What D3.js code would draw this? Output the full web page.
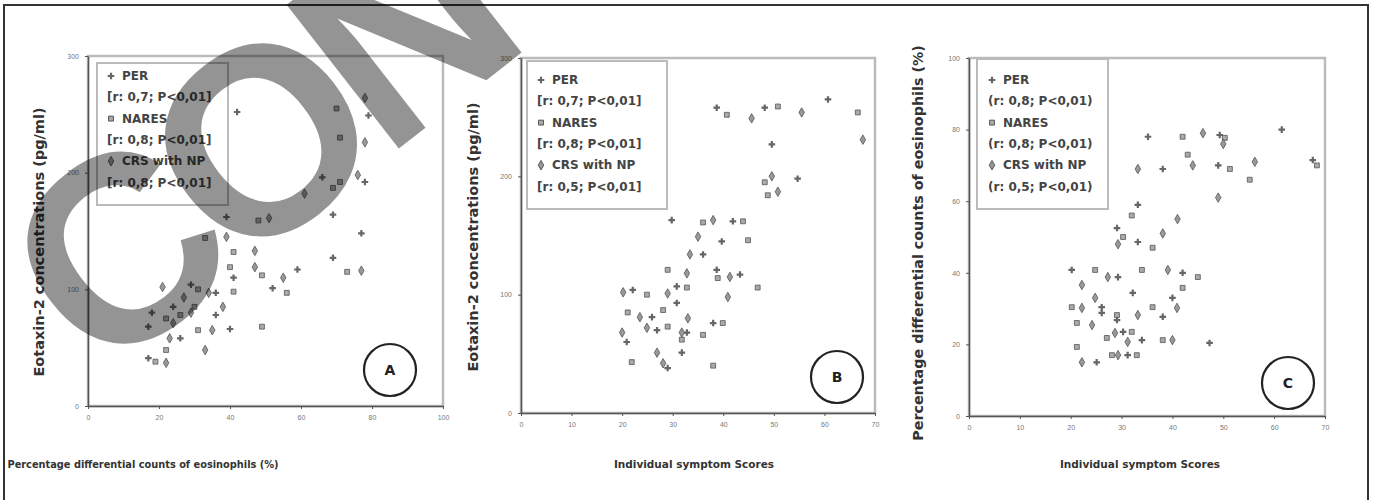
<!DOCTYPE html>
<html>
<head>
<meta charset="utf-8">
<script src="https://cdnjs.cloudflare.com/ajax/libs/d3/7.8.5/d3.min.js"></script>
<style>
	body { margin: 0; background: #fff; }
	.tick text { font-family: "Liberation Sans", Arial, sans-serif; font-size: 7px; fill: #777; }
	.tick line { stroke: #555; }
	.domain { stroke: #555; stroke-width: 1.5; }
	.axisTitle { font-family: "DejaVu Sans", sans-serif; font-weight: bold; fill: #333; }
	.legendText { font-family: "DejaVu Sans", sans-serif; font-weight: bold; font-size: 12px; fill: #444; }
</style>
</head>
<body>
<script>

// values, one list of [x, y] per group and panel
var aPer = [[42,252],[79,249],[66,196],[78,192],[39,162],[69,164],[77,148],[69,127],[59,117],[41,110],[52,101],[29,104],[36,97],[24,85],[18,80],[36,78],[17,68],[40,66],[26,58],[17,41]];
var aNares = [[70,255],[71,230],[71,192],[69,187],[48,159],[33,144],[41,132],[40,119],[73,115],[49,112],[56,97],[31,100],[41,98],[30,85],[26,78],[22,75],[31,65],[49,68],[22,48],[19,38]];
var aCrs = [[78,264],[78,226],[76,198],[61,182],[51,161],[39,145],[47,133],[47,119],[77,116],[55,110],[21,102],[34,97],[27,93],[38,85],[29,80],[24,71],[35,65],[23,58],[33,48],[22,37]];

var bPer = [[38.7,258],[48.2,258],[60.7,265],[49.6,227],[54.7,198],[29.8,163],[41.9,162],[39.7,145],[36,134],[38.7,121],[43.3,117],[22.1,104],[30.8,107],[30.8,93],[25.9,81],[38,76],[26.9,70],[32.8,68],[20.9,60],[31.8,51],[29,38]];
var bNares = [[40.7,252],[50.8,259],[66.6,254],[48.2,195],[48.8,184],[36,161],[43.9,162],[44.9,146],[29,121],[38.9,114],[46.8,106],[24.9,100],[32.8,106],[21.1,85],[28.1,87],[39.9,76],[29,73],[36,66],[31.8,62],[21.9,43],[38,40]];
var bCrs = [[45.6,249],[55.5,254],[67.6,231],[49.6,200],[50.8,187],[38,163],[35,149],[33.4,134],[32.8,118],[41.3,115],[20.2,102],[29,101],[40.9,98],[23.5,81],[33,80],[24.9,72],[31.8,68],[20,68],[26.9,51],[28.1,42]];

var cPer = [[35.2,78],[49.3,78.5],[61.5,80],[49,70],[67.6,71.5],[38.1,69],[33.2,59],[29.1,52.5],[33.2,48.6],[20.2,40.8],[29.3,38.8],[42,40],[32.2,34.4],[40,33],[26.1,30.4],[26.1,28.8],[38.1,27.7],[29.1,26.8],[30.3,23.5],[34,21.2],[47.3,20.4],[25.1,15],[31.2,17]];
var cNares = [[42,78],[50.3,77.7],[43,73],[51.3,69],[68.4,70],[55.2,66],[32,56],[30.3,50],[36.1,47],[24.8,40.8],[34,40.8],[45,38.8],[42,35.8],[20.2,30.4],[36.1,30.4],[29.1,28.2],[21.2,26],[27.1,21.8],[32,23.5],[38.1,21.2],[21.2,19.3],[28.1,17],[33,17]];
var cCrs = [[46,79],[50,76],[44,70],[56.2,71],[33.2,69],[49,61],[41,55],[29.3,48],[38.1,51],[27.3,38.8],[39.1,40.8],[22.2,36.6],[24.8,33],[22.2,30.2],[40.9,30.2],[33.2,28.2],[24.2,25.4],[28.7,23.2],[31.2,20.7],[40,21.2],[22.2,15],[29.3,17]];

// tick labels
var ticksA_x = [0, 20, 40, 60, 80, 100];
var ticksA_y = [0, 100, 200, 300];
var ticksB_x = [0, 10, 20, 30, 40, 50, 60, 70];
var ticksB_y = [0, 100, 200, 300];
var ticksC_x = [0, 10, 20, 30, 40, 50, 60, 70];
var ticksC_y = [0, 20, 40, 60, 80, 100];

// legend lines
var legendA = ["PER", "[r: 0,7; P<0,01]", "NARES", "[r: 0,8; P<0,01]", "CRS with NP", "[r: 0,8; P<0,01]"];
var legendB = ["PER", "[r: 0,7; P<0,01]", "NARES", "[r: 0,8; P<0,01]", "CRS with NP", "[r: 0,5; P<0,01]"];
var legendC = ["PER", "(r: 0,8; P<0,01)", "NARES", "(r: 0,8; P<0,01)", "CRS with NP", "(r: 0,5; P<0,01)"];

var eosTitle = "Percentage differential counts of eosinophils (%)";
var eotaxinTitle = "Eotaxin-2 concentrations  (pg/ml)";
var scoreTitle = "Individual symptom Scores";

var w = 1373;
var h = 500;

var svg = d3.select("body")
			.append("svg")
			.attr("width", w)
			.attr("height", h);

// outer frame of the figure
svg.append("path")
	.attr("d", "M4,500 L4,5 L1368,5 L1368,500")
	.attr("fill", "none")
	.attr("stroke", "#333")
	.attr("stroke-width", 2);

// marker shapes for the three groups
var shapes = [
	{ type: d3.symbolCross, size: 24, fill: "#666", stroke: "none" },
	{ type: d3.symbolSquare, size: 24, fill: "#aaa", stroke: "#555" },
	{ type: d3.symbolDiamond, size: 26, fill: "#999", stroke: "#555" }
];

function drawPanel(p) {

	var x = d3.scaleLinear().domain([p.xTicks[0], p.xTicks[p.xTicks.length - 1]]).range([p.left, p.right]);
	var y = d3.scaleLinear().domain([p.yTicks[0], p.yTicks[p.yTicks.length - 1]]).range([p.bottom, p.top]);

	var g = svg.append("g");

	// light frame round the plot area
	g.append("rect")
		.attr("x", p.left)
		.attr("y", p.top)
		.attr("width", p.right - p.left)
		.attr("height", p.bottom - p.top)
		.attr("fill", "none")
		.attr("stroke", "#bbb")
		.attr("stroke-width", 2.5);

	// legend box
	g.append("rect")
		.attr("x", p.lx)
		.attr("y", p.ly)
		.attr("width", p.lw)
		.attr("height", p.lh)
		.attr("fill", "#fff")
		.attr("stroke", "#bbb")
		.attr("stroke-width", 2);

	p.legend.forEach(function(t, i) {
		var ty = p.ly + p.firstLine + i * 21.3;
		var tx = p.lx + p.indent;
		if (i % 2 == 0) {
			var s = shapes[i / 2];
			g.append("path")
				.attr("d", d3.symbol().type(s.type).size(s.size)())
				.attr("transform", "translate(" + (tx + 4) + "," + (ty - 4) + ")")
				.attr("fill", s.fill)
				.attr("stroke", s.stroke);
			tx = tx + 15;
		}
		g.append("text")
			.attr("class", "legendText")
			.attr("x", tx)
			.attr("y", ty)
			.text(t);
	});

	// axes
	g.append("g")
		.attr("transform", "translate(0," + p.bottom + ")")
		.call(d3.axisBottom(x).tickValues(p.xTicks).tickSizeInner(3).tickSizeOuter(0).tickPadding(6));
	g.append("g")
		.attr("transform", "translate(" + p.left + ",0)")
		.call(d3.axisLeft(y).tickValues(p.yTicks).tickSizeInner(3).tickSizeOuter(0).tickPadding(6));

	// points
	p.series.forEach(function(data, k) {
		var s = shapes[k];
		g.selectAll(null)
			.data(data)
			.enter()
			.append("path")
			.attr("d", d3.symbol().type(s.type).size(s.size))
			.attr("transform", function(d) { return "translate(" + x(d[0]) + "," + y(d[1]) + ")"; })
			.attr("fill", s.fill)
			.attr("stroke", s.stroke)
			.attr("stroke-width", 0.8);
	});

	// panel letter in a circle
	g.append("circle")
		.attr("cx", p.cx)
		.attr("cy", p.cy)
		.attr("r", 26)
		.attr("fill", "none")
		.attr("stroke", "#222")
		.attr("stroke-width", 2.2);
	g.append("text")
		.attr("class", "axisTitle")
		.attr("x", p.cx)
		.attr("y", p.cy + 5)
		.attr("text-anchor", "middle")
		.style("font-size", "14px")
		.style("fill", "#222")
		.text(p.letter);

	// axis titles
	g.append("text")
		.attr("class", "axisTitle")
		.attr("x", p.xtx)
		.attr("y", 468)
		.attr("text-anchor", "middle")
		.style("font-size", p.xSize)
		.text(p.xTitle);
	g.append("text")
		.attr("class", "axisTitle")
		.attr("transform", "translate(" + p.ytx + "," + p.yty + ") rotate(-90)")
		.attr("text-anchor", "middle")
		.style("font-size", p.ySize)
		.text(p.yTitle);
}

drawPanel({ left: 88, right: 443, top: 56, bottom: 406, xTicks: ticksA_x, yTicks: ticksA_y,
	series: [aPer, aNares, aCrs], legend: legendA, lx: 97, ly: 63, lw: 131, lh: 142, firstLine: 17, indent: 10,
	cx: 390, cy: 370, letter: "A", xTitle: eosTitle, xtx: 143, xSize: "9.8px", yTitle: eotaxinTitle, ytx: 44, yty: 242, ySize: "14.5px" });

drawPanel({ left: 521, right: 875, top: 58, bottom: 413, xTicks: ticksB_x, yTicks: ticksB_y,
	series: [bPer, bNares, bCrs], legend: legendB, lx: 527, ly: 61, lw: 140, lh: 148, firstLine: 23, indent: 10,
	cx: 837, cy: 377, letter: "B", xTitle: scoreTitle, xtx: 694, xSize: "10.5px", yTitle: eotaxinTitle, ytx: 478, yty: 237, ySize: "14.5px" });

drawPanel({ left: 969, right: 1325, top: 58, bottom: 416, xTicks: ticksC_x, yTicks: ticksC_y,
	series: [cPer, cNares, cCrs], legend: legendC, lx: 977, ly: 59, lw: 131, lh: 150, firstLine: 25, indent: 11,
	cx: 1288, cy: 383, letter: "C", xTitle: scoreTitle, xtx: 1140, xSize: "10.5px", yTitle: eosTitle, ytx: 923, yty: 243, ySize: "14.3px" });

// grey watermark lying over the first panel
svg.append("text")
	.attr("transform", "translate(100,382) rotate(-38)")
	.style("font-family", "'Liberation Sans', Arial, sans-serif")
	.style("font-weight", "bold")
	.style("font-size", "265px")
	.style("letter-spacing", "-18px")
	.attr("fill", "#000")
	.attr("fill-opacity", 0.42)
	.text("CON");

</script>
</body>
</html>
